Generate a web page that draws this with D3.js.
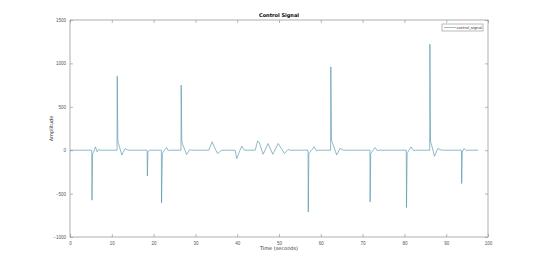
<!DOCTYPE html>
<html>
<head>
<meta charset="utf-8">
<script src="https://cdn.jsdelivr.net/npm/d3@7"></script>
<style>
  body { margin: 0; background: #fff; }
  svg { font-family: "DejaVu Sans", sans-serif; }
</style>
</head>
<body>
<div id="chart"></div>
<script>
// control signal samples (time in s, amplitude)
const times = [
  0, 5.2, 5.26, 5.4, 5.75, 6.1, 6.5, 6.85, 7.3,
  11.25, 11.3, 11.45, 11.7, 12.4, 13.2, 13.6, 14.0,
  18.45, 18.5, 18.65, 19.0,
  21.85, 21.9, 22.1, 22.6, 23.1, 23.5, 23.9,
  26.55, 26.6, 26.75, 27.0, 27.9, 28.6, 29.1,
  33.2, 34.0, 34.5, 35.3, 36.3,
  39.5, 39.9, 40.5, 41.1, 41.7,
  44.3, 44.9, 45.3, 46.2, 47.4, 48.5, 49.8, 51.3, 52.2, 52.6,
  56.95, 57.0, 57.15, 57.8, 58.4, 59.0, 59.4,
  62.35, 62.4, 62.55, 62.9, 63.8, 64.6, 65.4,
  71.75, 71.8, 71.95, 72.5, 73.0, 73.5, 74.0,
  80.45, 80.5, 80.65, 81.1, 81.6, 82.2, 82.6,
  86.05, 86.1, 86.25, 86.5, 87.2, 88.0, 88.6, 89.3,
  93.65, 93.7, 93.85, 94.3, 94.8, 95.2, 97.7
];
const amplitude = [
  0, 0, -576, -40, -10, 38, -19, 8, 0,
  0, 852, 96, 60, -55, 20, 5, 0,
  0, -296, -20, 0,
  0, -607, -38, 0, 31, -5, 0,
  0, 749, 96, 60, -50, 5, 0,
  0, 96, 40, -38, 0,
  0, -96, -20, 46, 0,
  0, 107, 84, -46, 77, -46, 77, -38, 10, 0,
  0, -711, -38, 0, 38, -10, 0,
  0, 960, 115, 70, -55, 20, 0,
  0, -595, -38, 0, 30, -5, 0,
  0, -660, -38, 0, 38, -5, 0,
  0, 1221, 96, 60, -69, 20, 5, 0,
  0, -384, -20, 20, -5, 0, 0
];
const xTicks = [0, 10, 20, 30, 40, 50, 60, 70, 80, 90, 100];
const yTicks = [-1000, -500, 0, 500, 1000, 1500];

const data = times.map((t, i) => ({ t: t, v: amplitude[i] }));

const width = 540, height = 267;
const mLeft = 70, mRight = 488, mTop = 20, mBottom = 237;
const axisColor = "#8c8c8c";
const lineColor = "#5295ab";

const svg = d3.select("#chart")
  .append("svg")
  .attr("width", width)
  .attr("height", height);

const x = d3.scaleLinear().domain([0, 100]).range([mLeft, mRight]);
const y = d3.scaleLinear().domain([-1000, 1500]).range([mBottom, mTop]);

function styleAxis(g, showLabels) {
  g.select(".domain").remove();
  g.selectAll(".tick line").attr("stroke", axisColor).attr("stroke-width", 0.6);
  g.selectAll(".tick text")
    .attr("fill", "#555")
    .attr("font-size", "4.5px")
    .style("display", showLabels ? null : "none");
}

// bottom / left axes with inward ticks
svg.append("g")
  .attr("transform", `translate(0,${mBottom})`)
  .call(d3.axisBottom(x).tickValues(xTicks).tickFormat(d3.format("d"))
    .tickSizeInner(-3).tickSizeOuter(0).tickPadding(5))
  .call(g => styleAxis(g, true));

svg.append("g")
  .attr("transform", `translate(${mLeft},0)`)
  .call(d3.axisLeft(y).tickValues(yTicks).tickFormat(d3.format("d"))
    .tickSizeInner(-3).tickSizeOuter(0).tickPadding(4))
  .call(g => styleAxis(g, true));

// mirrored ticks on top / right
svg.append("g")
  .attr("transform", `translate(0,${mTop})`)
  .call(d3.axisTop(x).tickValues(xTicks).tickSizeInner(-3).tickSizeOuter(0))
  .call(g => styleAxis(g, false));

svg.append("g")
  .attr("transform", `translate(${mRight},0)`)
  .call(d3.axisRight(y).tickValues(yTicks).tickSizeInner(-3).tickSizeOuter(0))
  .call(g => styleAxis(g, false));

// box
svg.append("rect")
  .attr("x", mLeft)
  .attr("y", mTop)
  .attr("width", mRight - mLeft)
  .attr("height", mBottom - mTop)
  .attr("fill", "none")
  .attr("stroke", axisColor)
  .attr("stroke-width", 0.7);

svg.append("path")
  .datum(data)
  .attr("fill", "none")
  .attr("stroke", lineColor)
  .attr("stroke-width", 0.65)
  .attr("d", d3.line().x(d => x(d.t)).y(d => y(d.v)));

// title and labels
svg.append("text")
  .attr("x", (mLeft + mRight) / 2)
  .attr("y", 17)
  .attr("text-anchor", "middle")
  .attr("font-size", "5px")
  .attr("font-weight", "bold")
  .text("Control Signal");

svg.append("text")
  .attr("x", (mLeft + mRight) / 2)
  .attr("y", 250)
  .attr("text-anchor", "middle")
  .attr("font-size", "5px")
  .attr("fill", "#333")
  .text("Time (seconds)");

svg.append("text")
  .attr("text-anchor", "middle")
  .attr("font-size", "5px")
  .attr("fill", "#333")
  .attr("transform", `translate(53,${(mTop + mBottom) / 2}) rotate(-90)`)
  .text("Amplitude");

// legend
const legend = svg.append("g");
legend.append("rect")
  .attr("x", 442)
  .attr("y", 24)
  .attr("width", 41)
  .attr("height", 7)
  .attr("fill", "#fff")
  .attr("stroke", axisColor)
  .attr("stroke-width", 0.6);
legend.append("line")
  .attr("x1", 444).attr("x2", 456)
  .attr("y1", 27.5).attr("y2", 27.5)
  .attr("stroke", lineColor)
  .attr("stroke-width", 0.6);
legend.append("text")
  .attr("x", 482)
  .attr("y", 29)
  .attr("text-anchor", "end")
  .attr("font-size", "3.7px")
  .attr("fill", "#333")
  .text("control_signal");
</script>
</body>
</html>
